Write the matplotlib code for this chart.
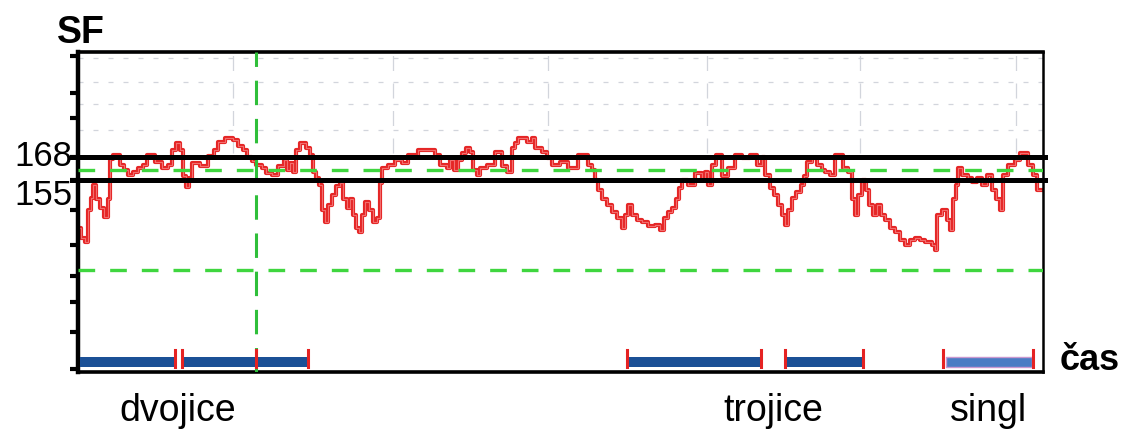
import matplotlib.pyplot as plt
from matplotlib import transforms

# SF trace: step start times and values
t = [0, 3, 7, 10, 13, 15, 18, 22, 26, 30, 32, 35, 42, 46, 50, 55, 60, 65, 69, 77,
     84, 90, 94, 98, 102, 105, 108, 111, 114, 122, 130, 136, 140, 147, 155, 160, 165, 169, 174, 178,
     184, 188, 194, 200, 206, 209, 212, 215, 218, 222, 228, 232, 235, 238, 241, 244, 247, 250, 254, 258,
     262, 265, 269, 272, 275, 278, 281, 284, 287, 291, 295, 299, 302, 304, 310, 317, 324, 330, 340, 357,
     362, 369, 372, 376, 380, 384, 388, 392, 395, 399, 402, 409, 417, 424, 429, 434, 437, 440, 449, 454,
     457, 464, 469, 474, 482, 490, 497, 500, 510, 514, 517, 520, 524, 529, 534, 539, 544, 547, 550, 554,
     559, 564, 570, 577, 582, 586, 590, 594, 598, 601, 604, 610, 617, 624, 627, 630, 634, 638, 644, 650,
     657, 664, 672, 679, 684, 687, 692, 696, 700, 704, 707, 710, 714, 718, 723, 726, 729, 734, 739, 744,
     747, 752, 757, 765, 770, 774, 777, 780, 784, 788, 791, 795, 799, 803, 807, 812, 817, 822, 827, 832,
     837, 842, 847, 854, 857, 859, 864, 869, 872, 875, 878, 880, 884, 890, 894, 899, 904, 909, 914, 918,
     922, 925, 930, 937, 942, 950, 955, 959, 963]
sf = [128, 122, 120, 138, 145, 152, 144, 139, 134, 144, 167, 169, 163.5, 160.5, 158, 159.5, 162, 163.5, 169, 165,
      162, 163.5, 172, 176, 172, 157, 151, 156, 164.5, 163, 168.5, 172, 176.5, 178.5, 177.5, 174, 172, 168, 165.5, 163.5,
      162, 159, 158, 163, 166.5, 160.5, 164.5, 159.5, 172, 176, 173, 169, 159.5, 156, 152, 138, 131, 141, 146.5, 151.5,
      153.5, 144, 139, 144, 135, 128, 125.5, 135, 142.5, 138, 131, 133.5, 153.5, 162, 163.5, 166.5, 164.5, 169, 172, 169,
      163.5, 162, 166.5, 160.5, 166.5, 170.5, 173, 171, 160.5, 158, 162, 163.5, 171, 163, 159.5, 173, 176, 178.5, 176.5, 178.5,
      173, 171, 167.5, 163.5, 165, 162, 162, 169, 163.5, 160.5, 155, 149.5, 144, 141, 137, 133.5, 128, 135, 141, 135,
      132.5, 131, 129, 129.5, 127, 133.5, 137, 139, 144, 150.5, 155, 152, 159, 155, 159.5, 152, 163.5, 169, 157, 162,
      169, 167.5, 169, 163.5, 168, 158, 150.5, 146.5, 141, 135, 129.5, 138, 145, 148, 152, 157, 165, 167.5, 163.5, 160.5,
      159.5, 158, 169, 162, 159.5, 144, 135, 146.5, 155, 149.5, 141, 135, 141, 135, 132.5, 128, 125.5, 121, 118.5, 121,
      122, 121, 120, 118.5, 115.5, 135, 138, 132.5, 127, 144, 152, 162, 158, 156, 154, 156, 152, 158, 149.5, 144,
      138, 158, 163.5, 166.5, 170.5, 163.5, 158, 149.5, 149.5]

# threshold levels
upper_level = 168
lower_level = 155
green_levels = [160.6, 104.2]
marker_time = 178

# activity segments (start, end)
dvojice = [(2, 97), (105, 230)]
trojice = [(549, 683), (707, 785)]
singl = [(868, 954)]
edge_marks = [97, 104, 178, 230, 549, 683, 707, 785, 865, 955]

t_max = 965
sf_min, sf_max = 46.5, 227.3

font = 'Liberation Sans'

fig = plt.figure(figsize=(11.32, 4.30), dpi=100)
ax = fig.add_axes([78 / 1132, 58 / 430, 965 / 1132, 320 / 430])
ax.set_xlim(0, t_max)
ax.set_ylim(sf_min, sf_max)

# faint grid in the upper band
for g in [223.9, 210.4, 198.0, 183.3]:
    ax.axhline(g, color='#d2d5dc', lw=0.9, ls=(0, (4, 8)), zorder=0)
for gx in [155, 315, 470, 629, 782, 938]:
    ax.plot([gx, gx], [170, sf_max], color='#d2d5dc', lw=0.9, ls=(0, (12, 10)), zorder=0)

# SF trace
ax.step(t, sf, where='post', color='#e52626', lw=3.0, zorder=2)
ax.step(t, sf, where='post', color='#f26e6e', lw=0.8, zorder=2)

# green reference lines
for lvl in green_levels:
    ax.axhline(lvl, color='#3fd63f', lw=2.4, ls=(0, (5, 4.5)), zorder=3)
ax.axvline(marker_time, color='#2fbf3a', lw=2.2, ls=(0, (8, 4.5)), zorder=3)

# black thresholds, reaching just past the left spine
for lvl in [upper_level, lower_level]:
    ax.plot([-6, t_max + 2], [lvl, lvl], color='black', lw=3.6, zorder=4, clip_on=False)

# segment bars along the bottom
ax.broken_barh([(s, e - s) for s, e in dvojice + trojice], (49.3, 5.9),
               facecolor='#1b5096', edgecolor='none', zorder=3)
ax.broken_barh([(s, e - s) for s, e in singl], (49.3, 5.9),
               facecolor='#4a7cc4', edgecolor='#c898d0', lw=1, zorder=3)
for m in edge_marks:
    ax.plot([m, m], [49.3, 59], color='#e52222', lw=2.2, zorder=4)

# axes styling
for side, w in [('left', 3.2), ('bottom', 2.6), ('top', 2.6), ('right', 1.8)]:
    ax.spines[side].set_linewidth(w)
ax.set_xticks([])
ax.set_yticks([48, 69, 86, 101, 118, 138, lower_level, upper_level, 190, 204, 225])
ax.set_yticklabels([])
ax.tick_params(axis='y', direction='out', length=6, width=3, color='black')

trans = transforms.blended_transform_factory(ax.transAxes, ax.transData)
ax.text(-0.006, upper_level, '168', transform=trans, ha='right', va='center',
        fontsize=25, family=font)
ax.text(-0.006, lower_level + 0.5, '155', transform=trans, ha='right', va='top',
        fontsize=25, family=font)

fig.text(57 / 1132, 1 - 33 / 430, 'SF', ha='left', va='center', fontsize=27,
         fontweight='bold', family=font)
fig.text(1060 / 1132, 1 - 360 / 430, 'čas', ha='left', va='center', fontsize=26,
         fontweight='bold', family=font)

labels = [('dvojice', 178), ('trojice', 773), ('singl', 988)]
for txt, px in labels:
    fig.text(px / 1132, 1 - 411 / 430, txt, ha='center', va='center', fontsize=27,
             family=font)

fig.savefig('out.png', dpi=100)
